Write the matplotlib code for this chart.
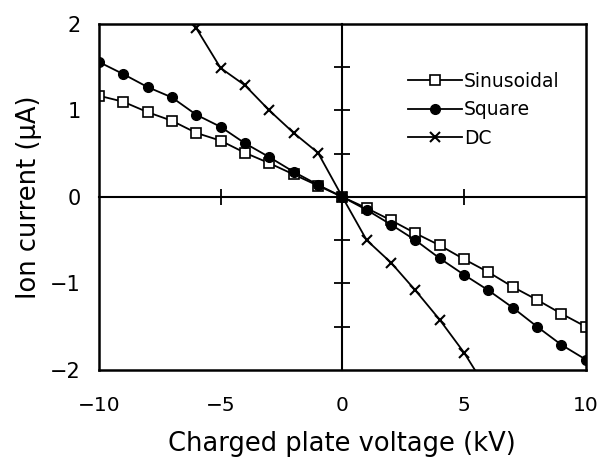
import matplotlib
matplotlib.use("Agg")
import matplotlib.pyplot as plt

plt.rcParams['font.family'] = ['DejaVu Sans']

# Charged plate voltage (kV)
volt = [-10, -9, -8, -7, -6, -5, -4, -3, -2, -1, 0, 1, 2, 3, 4, 5, 6, 7, 8, 9, 10]
# Ion current (uA)
sinusoidal = [1.17, 1.10, 0.98, 0.88, 0.74, 0.65, 0.51, 0.39, 0.26, 0.13, 0.0,
              -0.13, -0.27, -0.42, -0.56, -0.72, -0.87, -1.04, -1.19, -1.35, -1.50]
square = [1.56, 1.42, 1.27, 1.15, 0.95, 0.81, 0.62, 0.46, 0.29, 0.14, 0.0,
          -0.15, -0.32, -0.50, -0.71, -0.90, -1.08, -1.28, -1.50, -1.71, -1.88]
dc_volt = [-7, -6, -5, -4, -3, -2, -1, 0, 1, 2, 3, 4, 5, 6]
dc = [2.40, 1.95, 1.49, 1.29, 1.00, 0.74, 0.51, 0.0, -0.50, -0.76, -1.08, -1.42, -1.80, -2.25]

x_ticks = [-10, -5, 0, 5, 10]
x_labels = ['\u221210', '\u22125', '0', '5', '10']
y_ticks = [-2, -1, 0, 1, 2]
y_labels = ['\u22122', '\u22121', '0', '1', '2']

fig = plt.figure(figsize=(5.99, 4.59), dpi=100)
rect = [0.165, 0.194, 0.813, 0.754]

# axis lines through the origin with their own ticks (drawn underneath)
ax2 = fig.add_axes(rect)
ax2.set_xlim(-10, 10)
ax2.set_ylim(-2, 2)
ax2.spines['left'].set_position(('data', 0))
ax2.spines['bottom'].set_position(('data', 0))
ax2.spines['top'].set_visible(False)
ax2.spines['right'].set_visible(False)
for s in ['left', 'bottom']:
    ax2.spines[s].set_linewidth(1.5)
ax2.tick_params(direction='inout', length=11, width=1.3, labelleft=False, labelbottom=False)
ax2.set_xticks([-5, 5])
ax2.set_yticks([-1.5, -1, -0.5, 0.5, 1, 1.5])

ax = fig.add_axes(rect)
ax.patch.set_visible(False)
ax.plot(volt, sinusoidal, color='black', lw=1.3, marker='s', ms=7,
        mfc='white', mec='black', mew=1.2, label='Sinusoidal')
ax.plot(volt, square, color='black', lw=1.3, marker='o', ms=7,
        mfc='black', mec='black', label='Square')
ax.plot(dc_volt, dc, color='black', lw=1.3, marker='x', ms=7,
        mew=1.5, label='DC')

ax.set_xlim(-10, 10)
ax.set_ylim(-2, 2)
ax.set_xticks(x_ticks)
ax.set_yticks(y_ticks)
ax.set_xticklabels(x_labels)
ax.set_yticklabels(y_labels)
ax.tick_params(length=0, labelsize=15)
ax.tick_params(axis='x', pad=19, labelsize=14.5)
ax.tick_params(axis='y', pad=13)
for s in ax.spines.values():
    s.set_linewidth(1.8)

ax.set_xlabel('Charged plate voltage (kV)', fontsize=18.5, labelpad=11)
ax.set_ylabel('Ion current (\u03bcA)', fontsize=18.5, labelpad=6)

leg = ax.legend(loc='upper left', bbox_to_anchor=(0.6, 0.91), frameon=False,
                fontsize=13.5, handlelength=2.9, handletextpad=0.1, labelspacing=0.5)

fig.savefig('out.png', dpi=100)
